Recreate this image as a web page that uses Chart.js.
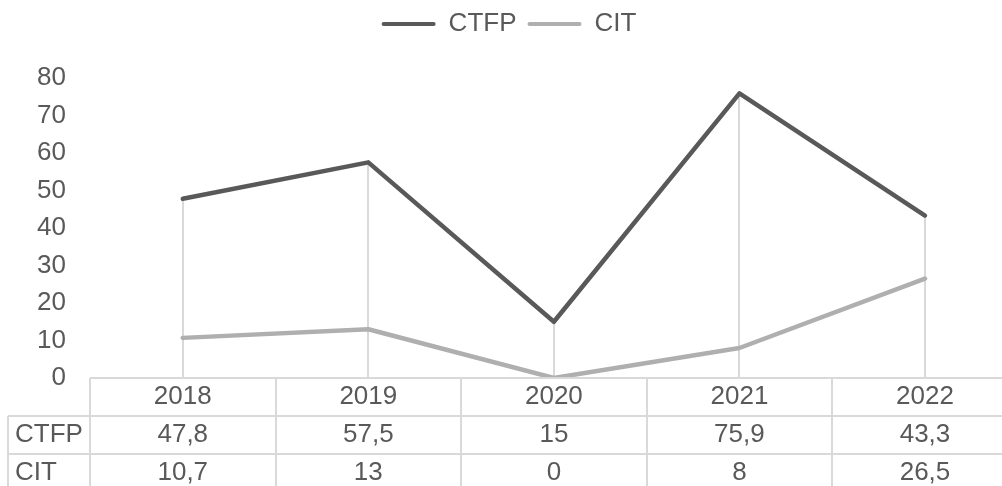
<!DOCTYPE html>
<html>
<head>
<meta charset="utf-8">
<script src="https://cdn.jsdelivr.net/npm/chart.js@4"></script>
<style>
  html, body { margin: 0; padding: 0; background: #fff; overflow: hidden; }
  #wrap { position: absolute; left: 0; top: 0; width: 1020px; height: 486px; }
</style>
</head>
<body>
<div id="wrap"><canvas id="chart" width="1020" height="486"></canvas></div>
<script>
// data
const years = ['2018', '2019', '2020', '2021', '2022'];
const ctfpValues = [47.8, 57.5, 15, 75.9, 43.3];
const citValues = [10.7, 13, 0, 8, 26.5];
const yTicks = [0, 10, 20, 30, 40, 50, 60, 70, 80];

const textColor = '#595959';
const lineColor = '#d9d9d9';
const fontFamily = "'Liberation Sans', Arial, sans-serif";
const plotTop = 78; // where the 80 tick sits in the original

Chart.defaults.font.family = fontFamily;
Chart.defaults.font.size = 26;
Chart.defaults.color = textColor;

// decimal comma like in the original table
const fmt = v => String(v).replace('.', ',');

// drop lines from the highest point of each category down to the axis
const dropLines = {
  id: 'dropLines',
  beforeDatasetsDraw(chart) {
    const { ctx, scales: { x, y } } = chart;
    ctx.save();
    ctx.strokeStyle = lineColor;
    ctx.lineWidth = 2;
    years.forEach((yr, i) => {
      const top = Math.max(ctfpValues[i], citValues[i]);
      const px = Math.round(x.getPixelForValue(i));
      ctx.beginPath();
      ctx.moveTo(px, y.getPixelForValue(top));
      ctx.lineTo(px, y.bottom);
      ctx.stroke();
    });
    ctx.restore();
  }
};

// data table under the plot (like Excel's data table)
const dataTable = {
  id: 'dataTable',
  afterDraw(chart) {
    const { ctx, scales: { x, y } } = chart;
    const rowH = 38;
    const top = y.bottom;
    const bottom = top + rowH * 3;
    const colW = x.width / years.length;
    const labelLeft = 8;
    const rows = [
      { name: 'CTFP', values: ctfpValues },
      { name: 'CIT', values: citValues }
    ];
    ctx.save();
    ctx.strokeStyle = lineColor;
    ctx.lineWidth = 2;
    ctx.beginPath();
    // axis / top line
    ctx.moveTo(x.left, top);
    ctx.lineTo(x.right, top);
    for (let r = 1; r < 3; r++) {
      ctx.moveTo(labelLeft, top + rowH * r);
      ctx.lineTo(x.right, top + rowH * r);
    }
    ctx.moveTo(labelLeft, top + rowH);
    ctx.lineTo(labelLeft, bottom);
    for (let c = 0; c <= years.length; c++) {
      const cx = Math.round(x.left + colW * c);
      ctx.moveTo(cx, top);
      ctx.lineTo(cx, bottom);
    }
    ctx.stroke();

    ctx.fillStyle = textColor;
    ctx.font = '26px ' + fontFamily;
    ctx.textBaseline = 'middle';
    ctx.textAlign = 'center';
    years.forEach((yr, i) => {
      ctx.fillText(yr, x.getPixelForValue(i), top + rowH / 2);
    });
    rows.forEach((row, r) => {
      const cy = top + rowH * (r + 1) + rowH / 2;
      ctx.textAlign = 'left';
      ctx.fillText(row.name, 15, cy);
      ctx.textAlign = 'center';
      row.values.forEach((v, i) => {
        ctx.fillText(fmt(v), x.getPixelForValue(i), cy);
      });
    });
    ctx.restore();
  }
};

const chart = new Chart(document.getElementById('chart'), {
  type: 'line',
  data: {
    labels: years,
    datasets: [
      {
        label: 'CTFP',
        data: ctfpValues,
        borderColor: '#595959',
        backgroundColor: '#595959',
        borderWidth: 4.5,
        pointRadius: 0,
        borderJoinStyle: 'round',
        borderCapStyle: 'round',
        tension: 0
      },
      {
        label: 'CIT',
        data: citValues,
        borderColor: '#afafaf',
        backgroundColor: '#afafaf',
        borderWidth: 4.5,
        pointRadius: 0,
        borderJoinStyle: 'round',
        borderCapStyle: 'round',
        tension: 0
      }
    ]
  },
  options: {
    responsive: false,
    animation: false,
    devicePixelRatio: 1,
    layout: { padding: { top: 0, right: 2, bottom: 108, left: 0 } },
    plugins: {
      tooltip: { enabled: false },
      legend: {
        position: 'top',
        weight: 3000,
        labels: {
          boxWidth: 54,
          boxHeight: 4,
          padding: 11,
          useBorderRadius: true,
          borderRadius: 2,
          color: textColor,
          font: { size: 26 },
          generateLabels(chart) {
            return Chart.defaults.plugins.legend.labels.generateLabels(chart)
              .map(l => Object.assign(l, { lineWidth: 0 }));
          }
        }
      },
      // empty title used only as a spacer between legend and plot
      title: {
        display: true,
        text: '',
        weight: 500,
        font: { size: 1 },
        padding: { top: 0, bottom: 0 }
      }
    },
    scales: {
      x: {
        type: 'category',
        display: false,
        offset: true
      },
      y: {
        min: 0,
        max: 80,
        afterBuildTicks(scale) {
          scale.ticks = yTicks.map(v => ({ value: v }));
        },
        afterFit(scale) { scale.width = 90; },
        grid: { display: false, drawTicks: false },
        border: { display: false },
        ticks: { padding: 24, color: textColor, font: { size: 26 } }
      }
    }
  },
  plugins: [dropLines, dataTable]
});

// push the plot down so its top lines up with the original
chart.options.plugins.title.padding.bottom = Math.max(0, plotTop - chart.chartArea.top);
chart.update();
</script>
</body>
</html>
